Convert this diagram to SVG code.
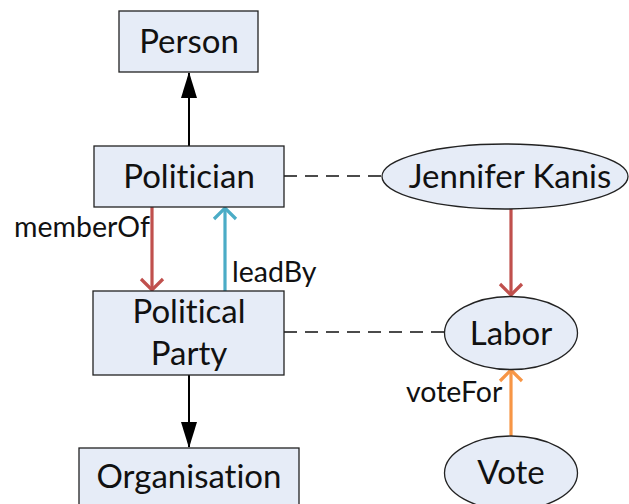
<svg xmlns="http://www.w3.org/2000/svg" width="629" height="504" viewBox="0 0 629 504">
<style>
.box{fill:#e6ecf7;stroke:#222;stroke-width:1.3}
.t{font-family:Lato,"Open Sans",sans-serif;font-size:33px;fill:#111;text-anchor:middle;font-variant-ligatures:none}
.l{font-family:Lato,"Open Sans",sans-serif;font-size:28.5px;fill:#111;font-variant-ligatures:none}
.dash{stroke:#111;stroke-width:1.5;stroke-dasharray:13,8;fill:none}
</style>
<defs>
<marker id="tri" markerWidth="26" markerHeight="16" refX="25" refY="8" viewBox="0 0 26 16" orient="auto" markerUnits="userSpaceOnUse">
<path d="M0,0 L26,8 L0,16 Z" fill="#000"/>
</marker>
</defs>
<g id="connectors">
<line x1="189" y1="146" x2="189" y2="73" stroke="#000" stroke-width="2" marker-end="url(#tri)"/>
<line x1="189" y1="375" x2="189" y2="447" stroke="#000" stroke-width="2" marker-end="url(#tri)"/>
<line class="dash" x1="284" y1="176" x2="382" y2="176"/>
<line class="dash" x1="284" y1="332" x2="444" y2="332"/>
<g fill="none" stroke-width="3.2" stroke-linecap="butt">
<g stroke="#c0504d">
<line x1="152" y1="207" x2="152" y2="290"/>
<polyline points="141,279 152,290 163,279"/>
<line x1="511" y1="209" x2="511" y2="295"/>
<polyline points="500,284 511,295 522,284"/>
</g>
<g stroke="#4bacc6">
<line x1="225" y1="291" x2="225" y2="208"/>
<polyline points="214,219 225,208 236,219"/>
</g>
<g stroke="#f79646">
<line x1="511" y1="436" x2="511" y2="370"/>
<polyline points="500,381 511,370 522,381"/>
</g>
</g>
<text class="l" x="14" y="237">memberOf</text>
<text class="l" x="232" y="282">leadBy</text>
<text class="l" x="406" y="402">voteFor</text>
</g>
<g id="person"><rect class="box" x="119" y="11" width="139" height="61"/><text class="t" x="189" y="53">Person</text></g>
<g id="politician"><rect class="box" x="94" y="146" width="190" height="61"/><text class="t" x="189" y="188">Politician</text></g>
<g id="party"><rect class="box" x="93" y="291" width="191" height="84"/><text class="t" x="189" y="323">Political</text><text class="t" x="189" y="365">Party</text></g>
<g id="organisation"><rect class="box" x="79" y="448" width="220" height="70"/><text class="t" x="189" y="488">Organisation</text></g>
<g id="jennifer"><ellipse class="box" cx="505" cy="176.5" rx="123" ry="32.5"/><text class="t" x="510" y="188">Jennifer Kanis</text></g>
<g id="labor"><ellipse class="box" cx="511" cy="333" rx="66.5" ry="36.5"/><text class="t" x="511" y="345">Labor</text></g>
<g id="vote"><ellipse class="box" cx="511" cy="473" rx="66.5" ry="37"/><text class="t" x="511" y="484">Vote</text></g>
</svg>
